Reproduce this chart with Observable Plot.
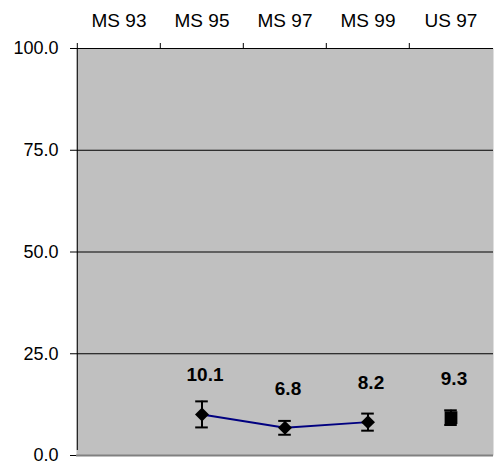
<!DOCTYPE html>
<html>
<head>
<meta charset="utf-8">
<script src="https://cdn.jsdelivr.net/npm/d3@7"></script>
<script src="https://cdn.jsdelivr.net/npm/@observablehq/plot@0.6"></script>
<style>
  html, body { margin: 0; padding: 0; background: #ffffff; }
  #chart { width: 495px; height: 467px; }
</style>
</head>
<body>
<div id="chart"></div>
<script>
const categories = ["MS 93", "MS 95", "MS 97", "MS 99", "US 97"];
const yTicks = [0, 25, 50, 75, 100];
const gridValues = [25, 50, 75, 100];

const msYears = ["MS 95", "MS 97", "MS 99"];
const msValues = [10.1, 6.8, 8.2];
const msErrors = [3.2, 1.7, 2.1];

const usYears = ["US 97"];
const usValues = [9.3];
const usErrors = [1.8];

const ms = msYears.map((c, i) => ({cat: c, v: msValues[i], e: msErrors[i]}));
const us = usYears.map((c, i) => ({cat: c, v: usValues[i], e: usErrors[i]}));
const all = ms.concat(us);

const W = 495, H = 467, ML = 76, MR = 2, MT = 48, MB = 12;
const bw = (W - ML - MR) / categories.length;
const capInset = (bw - 13) / 2;

const chart = Plot.plot({
  width: W,
  height: H,
  marginLeft: ML,
  marginRight: MR,
  marginTop: MT,
  marginBottom: MB,
  style: {fontFamily: "'Liberation Sans', Arial, sans-serif", background: "#ffffff", color: "#000000"},
  x: {type: "band", domain: categories, padding: 0, label: null},
  y: {domain: [0, 100], label: null},
  marks: [
    Plot.frame({fill: "#c0c0c0", stroke: null}),
    Plot.ruleY(gridValues, {stroke: "#000000", strokeWidth: 1}),
    Plot.ruleY([0], {stroke: "#808080", strokeWidth: 2}),
    Plot.ruleX(categories, {x: d => d, y1: 100, y2: 100, insetTop: -5, dx: -bw / 2, stroke: "#000000"}),
    Plot.ruleX([categories[0]], {x: d => d, y1: 0, y2: 100, insetTop: -5, dx: -bw / 2, stroke: "#000000"}),
    Plot.axisY({ticks: yTicks, tickFormat: d => d.toFixed(1), tickSize: 6, tickPadding: 12, fontSize: 18, stroke: "#000000", label: null}),
    Plot.axisX({anchor: "top", tickSize: 0, tickPadding: 22, fontSize: 19, label: null}),
    Plot.line(ms, {x: "cat", y: "v", stroke: "#000080", strokeWidth: 2}),
    Plot.ruleX(all, {x: "cat", y1: d => d.v - d.e, y2: d => d.v + d.e, stroke: "#000000", strokeWidth: 2}),
    Plot.tickY(all, {x: "cat", y: d => d.v - d.e, insetLeft: capInset, insetRight: capInset, stroke: "#000000", strokeWidth: 2}),
    Plot.tickY(all, {x: "cat", y: d => d.v + d.e, insetLeft: capInset, insetRight: capInset, stroke: "#000000", strokeWidth: 2}),
    Plot.dot(ms, {x: "cat", y: "v", symbol: "diamond2", r: 6.3, fill: "#000000", stroke: null}),
    Plot.dot(us, {x: "cat", y: "v", symbol: "square", r: 7.2, fill: "#000000", stroke: null}),
    Plot.text(all, {x: "cat", y: "v", text: d => d.v.toFixed(1), dy: -39, dx: 3, fontSize: 19, fontWeight: "bold", fill: "#000000"})
  ]
});
document.getElementById("chart").appendChild(chart);
</script>
</body>
</html>
